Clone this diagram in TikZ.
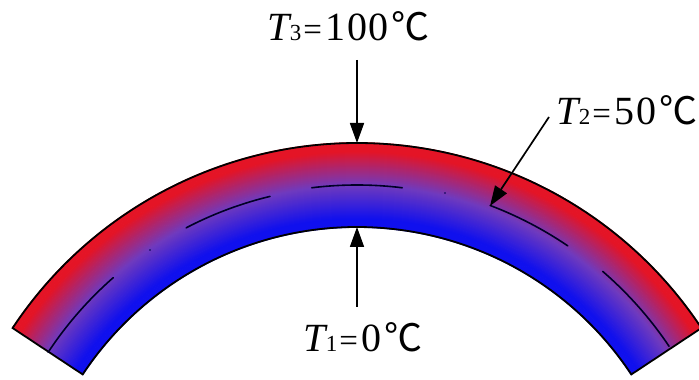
\documentclass[tikz,border=0pt]{standalone}
\usepackage{fontspec}
\usetikzlibrary{arrows.meta}
\setmainfont{Liberation Serif}
\newfontfamily\degfont{Noto Sans CJK SC}
\newcommand{\templabel}[2]{\fontsize{40}{40}\selectfont\textit{T}\kern-2pt{\fontsize{23}{23}\selectfont #1}\kern2pt{\fontsize{33}{33}\selectfont=}\kern4pt #2\kern3pt{\fontsize{38}{38}\degfont\selectfont ℃}}
\definecolor{hotred}{RGB}{228,20,38}
\definecolor{midviolet}{RGB}{112,58,190}
\definecolor{coldblue}{RGB}{16,16,238}
\tikzset{
  labeltext/.style={inner sep=0pt,anchor=base west,text=black},
  pointer/.style={draw=black,line width=1.7pt,-{Triangle[length=20pt,width=14pt]},shorten >=0pt},
  midmark/.style={line width=1.6pt,draw=black!85!blue,line cap=round},
  rim/.style={draw=black,line width=1.8pt,line join=miter}
}
\begin{document}
\begin{tikzpicture}[x=1pt,y=1pt]
\useasboundingbox (0,0) rectangle (699,380);
\coordinate (c) at (357,-176);
% radial colour bands
\foreach \r in {329,330,...,413}{
  \pgfmathsetmacro{\t}{min(1,max(0,((\r-329)/84-0.1)/0.8))}
  \pgfmathparse{\t<0.5?1:0}
  \ifdim\pgfmathresult pt>0.5pt
    \pgfmathsetmacro{\p}{100*\t/0.5}
    \colorlet{band}{midviolet!\p!coldblue}
  \else
    \pgfmathsetmacro{\p}{100*(\t-0.5)/0.5}
    \colorlet{band}{hotred!\p!midviolet}
  \fi
  \draw[band,line width=1.6pt] (c) ++(33.5:\r pt) arc[start angle=33.5,end angle=146.5,radius=\r pt];
}
% outline
\draw[rim] (c) ++(33.5:413pt) arc[start angle=33.5,end angle=146.5,radius=413pt]
  -- ++(-33.5:84pt) arc[start angle=146.5,end angle=33.5,radius=329pt] -- cycle;
% mid-surface dashes
\draw[midmark] (c) ++(146.6:370pt) arc[start angle=146.6,end angle=131.2,radius=370pt];
\draw[midmark] (c) ++(117.5:370pt) arc[start angle=117.5,end angle=103.6,radius=370pt];
\draw[midmark] (c) ++(97:371pt) arc[start angle=97,end angle=83,radius=371pt];
\draw[midmark] (c) ++(69.2:375pt) arc[start angle=69.2,end angle=55.8,radius=375pt];
\draw[midmark] (c) ++(49.2:376pt) arc[start angle=49.2,end angle=33.9,radius=376pt];
\fill[black!70!blue] (150,130) circle (0.9pt);
\fill[black!70!blue] (445,187) circle (0.9pt);
% labels
\node[labeltext] (t3) at (267,339) {\templabel{3}{1\kern1.5pt0\kern1.5pt0}};
\node[labeltext] (t2) at (556,255) {\templabel{2}{5\kern1.5pt0}};
\node[labeltext] (t1) at (303,28) {\templabel{1}{0}};
% arrow ends
\coordinate (t3from) at (357,320);
\coordinate (t3to) at (357,237);
\coordinate (t2from) at (549,263);
\coordinate (t2to) at (490,174);
\coordinate (t1from) at (357,73);
\coordinate (t1to) at (357,153);
\draw[pointer] (t3from) -- (t3to);
\draw[pointer] (t2from) -- (t2to);
\draw[pointer] (t1from) -- (t1to);
\end{tikzpicture}
\end{document}
